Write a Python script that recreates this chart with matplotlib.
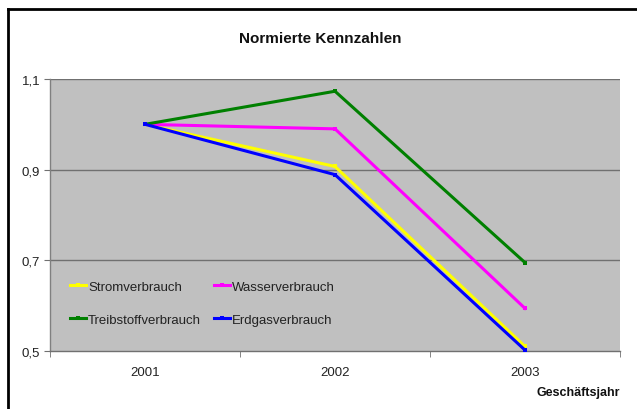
import matplotlib
matplotlib.use("Agg")
import matplotlib.pyplot as plt
from matplotlib.lines import Line2D
import numpy as np

years = ["2001", "2002", "2003"]
strom = [1.0, 0.907, 0.51]
wasser = [1.0, 0.99, 0.594]
treibstoff = [1.0, 1.073, 0.695]
erdgas = [1.0, 0.889, 0.502]
series_names = ["Stromverbrauch", "Wasserverbrauch", "Treibstoffverbrauch", "Erdgasverbrauch"]
yticks = [0.5, 0.7, 0.9, 1.1]
ytick_labels = ["0,5", "0,7", "0,9", "1,1"]

W, H = 637, 410
fig = plt.figure(figsize=(W / 100, H / 100), dpi=100)
fig.patch.set_facecolor("white")
plt.rcParams['font.family'] = ['Liberation Sans', 'DejaVu Sans']

# outer frame (left + top visible)
fig.add_artist(Line2D([8 / W, 8 / W], [0, 1 - 10 / H], color="black", lw=2, transform=fig.transFigure))
fig.add_artist(Line2D([8 / W, 1], [1 - 10 / H, 1 - 10 / H], color="black", lw=2, transform=fig.transFigure))

left, right, top, bottom = 50, 620, 80, 352
ax = fig.add_axes([left / W, 1 - bottom / H, (right - left) / W, (bottom - top) / H])
ax.set_facecolor("#C0C0C0")

x = np.arange(len(years))
colors = ["#FFFF00", "#FF00FF", "#008000", "#0000FF"]
data = [strom, wasser, treibstoff, erdgas]
order = [2, 1, 0, 3]
handles = {}
for i in order:
    h, = ax.plot(x, data[i], color=colors[i], lw=2.2, zorder=3 + i * 0.1,
                 marker="s", markersize=2.5, markeredgewidth=0, solid_joinstyle="round")
    handles[i] = h

ax.set_xlim(-0.5, 2.5)
ax.set_ylim(0.5, 1.1)
ax.set_yticks(yticks)
ax.set_yticklabels(ytick_labels, fontsize=9.5, color="#222222")
for yv in yticks[1:]:
    ax.axhline(yv, color="#707070", lw=1.0, zorder=1)

ax.set_xticks(x)
ax.set_xticklabels(years, fontsize=9.5, color="#222222")
ax.tick_params(axis="x", length=0, pad=11)
ax.set_xticks([-0.5, 0.5, 1.5, 2.5], minor=True)
ax.tick_params(axis="x", which="minor", length=4, color="#707070", direction="out")
ax.tick_params(axis="y", length=4, color="#707070", direction="out", pad=3)

for s in ["top", "right"]:
    ax.spines[s].set_visible(False)
ax.spines["left"].set_color("#808080")
ax.spines["bottom"].set_color("#707070")
ax.spines["left"].set_linewidth(1.0)
ax.spines["bottom"].set_linewidth(1.0)

# column-first filling: row1 Strom, Wasser; row2 Treibstoff, Erdgas
leg = ax.legend([handles[0], handles[2], handles[1], handles[3]],
                [series_names[0], series_names[2], series_names[1], series_names[3]],
                ncol=2, loc="lower left", bbox_to_anchor=(0.015, 0.05),
                frameon=False, fontsize=9.5, handlelength=1.2, handletextpad=0.15,
                columnspacing=1.0, labelspacing=1.55)
for t in leg.get_texts():
    t.set_color("#222222")

fig.text(320 / W, 1 - 39 / H, "Normierte Kennzahlen", ha="center", va="center",
         fontsize=11, fontweight="bold", color="#111111")
fig.text(620 / W, 1 - 393 / H, "Geschäftsjahr", ha="right", va="center",
         fontsize=9, fontweight="bold", color="#111111")

fig.savefig("out.png", dpi=100)
